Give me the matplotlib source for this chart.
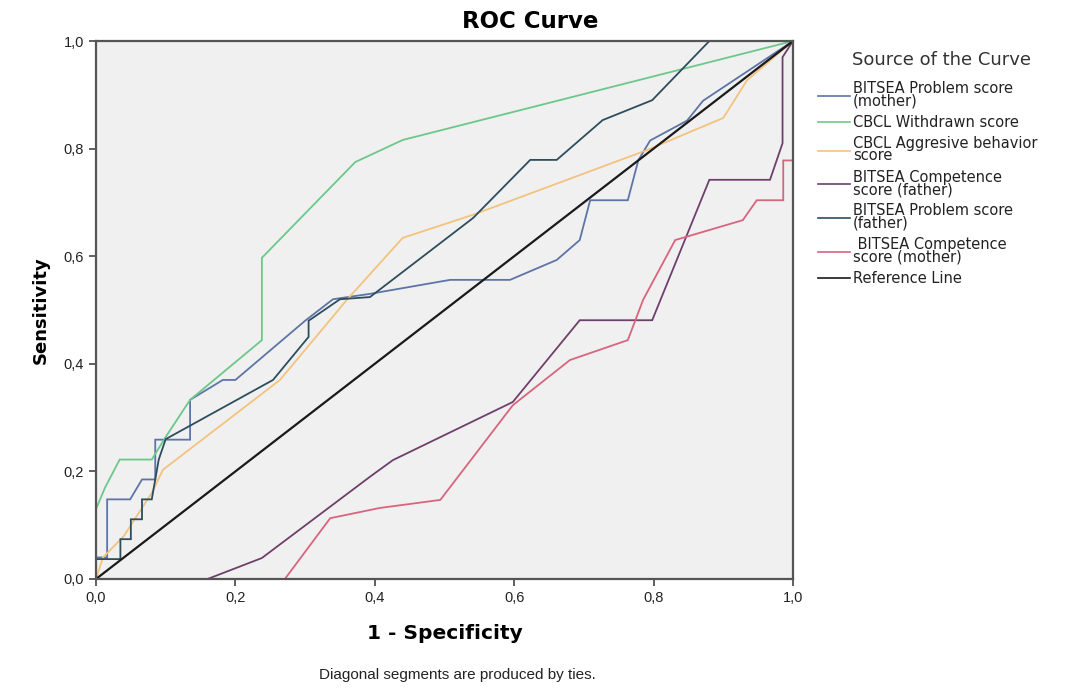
import matplotlib
matplotlib.use("Agg")
import matplotlib.pyplot as plt

plt.rcParams['font.family'] = ['Liberation Sans', 'DejaVu Sans']

labels = [
    "BITSEA Problem score\n(mother)",
    "CBCL Withdrawn score",
    "CBCL Aggresive behavior\nscore",
    "BITSEA Competence\nscore (father)",
    "BITSEA Problem score\n(father)",
    " BITSEA Competence\nscore (mother)",
]
colors = ["#5d74a6", "#6cc88a", "#f3c37e", "#6f3f6c", "#2d4d5c", "#d8647e"]

mother_problem_x = [0, 0, 0.016, 0.016, 0.049, 0.066, 0.085, 0.085, 0.135, 0.135, 0.182, 0.20,
                    0.30, 0.34, 0.393, 0.508, 0.594, 0.661, 0.694, 0.709, 0.763, 0.778, 0.795,
                    0.848, 0.871, 1.0]
mother_problem_y = [0, 0.04, 0.04, 0.148, 0.148, 0.185, 0.185, 0.259, 0.259, 0.333, 0.37, 0.37,
                    0.48, 0.52, 0.53, 0.556, 0.556, 0.593, 0.63, 0.704, 0.704, 0.778, 0.815,
                    0.852, 0.889, 1.0]

withdrawn_x = [0, 0, 0.013, 0.034, 0.08, 0.10, 0.135, 0.238, 0.238, 0.372, 0.44, 1.0]
withdrawn_y = [0, 0.13, 0.17, 0.222, 0.222, 0.264, 0.333, 0.444, 0.597, 0.775, 0.816, 1.0]

aggressive_x = [0, 0.01, 0.04, 0.06, 0.08, 0.096, 0.264, 0.36, 0.44, 0.541, 0.79, 0.90, 0.934, 1.0]
aggressive_y = [0, 0.04, 0.08, 0.12, 0.16, 0.203, 0.37, 0.519, 0.634, 0.677, 0.797, 0.857, 0.927, 1.0]

father_comp_x = [0, 0.16, 0.238, 0.393, 0.426, 0.598, 0.694, 0.798, 0.88, 0.967, 0.985, 0.985, 1.0]
father_comp_y = [0, 0, 0.039, 0.19, 0.221, 0.329, 0.481, 0.481, 0.742, 0.742, 0.81, 0.97, 1.0]

father_problem_x = [0, 0, 0.035, 0.035, 0.05, 0.05, 0.066, 0.066, 0.08, 0.085, 0.09, 0.10, 0.254,
                    0.305, 0.305, 0.35, 0.393, 0.541, 0.623, 0.661, 0.727, 0.798, 0.88, 1.0]
father_problem_y = [0, 0.037, 0.037, 0.074, 0.074, 0.111, 0.111, 0.148, 0.148, 0.185, 0.222, 0.26, 0.37,
                    0.45, 0.48, 0.52, 0.524, 0.671, 0.779, 0.779, 0.853, 0.89, 1.0, 1.0]

mother_comp_x = [0, 0.271, 0.336, 0.407, 0.494, 0.598, 0.68, 0.763, 0.785, 0.831, 0.928, 0.948,
                 0.986, 0.986, 1.0, 1.0]
mother_comp_y = [0, 0, 0.113, 0.132, 0.147, 0.323, 0.407, 0.444, 0.519, 0.63, 0.667, 0.704,
                 0.704, 0.778, 0.778, 1.0]

ref_x = [0, 1]
ref_y = [0, 1]

ticks = [0.0, 0.2, 0.4, 0.6, 0.8, 1.0]
tick_labels = ["0,0", "0,2", "0,4", "0,6", "0,8", "1,0"]

series = [
    (mother_problem_x, mother_problem_y),
    (withdrawn_x, withdrawn_y),
    (aggressive_x, aggressive_y),
    (father_comp_x, father_comp_y),
    (father_problem_x, father_problem_y),
    (mother_comp_x, mother_comp_y),
]

fig = plt.figure(figsize=(10.88, 6.88), dpi=100)
ax = fig.add_axes([96 / 1088, 1 - 579 / 688, (793 - 96) / 1088, (579 - 41) / 688])
ax.set_facecolor("#f0f0f0")

handles = []
for (xs, ys), c, lab in zip(series, colors, labels):
    h, = ax.plot(xs, ys, color=c, lw=1.3, label=lab, solid_joinstyle="miter")
    handles.append(h)
h, = ax.plot(ref_x, ref_y, color="#1a1a1a", lw=1.6, label="Reference Line")
handles.append(h)

ax.set_xlim(0, 1)
ax.set_ylim(0, 1)
ax.set_xticks(ticks)
ax.set_xticklabels(tick_labels)
ax.set_yticks(ticks)
ax.set_yticklabels(tick_labels)
ax.tick_params(axis="both", direction="out", length=5, width=1.2, labelsize=10.5,
               color="#444444", labelcolor="#222222")
for s in ax.spines.values():
    s.set_color("#555555")
    s.set_linewidth(1.6)

ax.set_xlabel("1 - Specificity", fontsize=14.5, fontweight="bold", labelpad=14,
              family="DejaVu Sans")
ax.set_ylabel("Sensitivity", fontsize=13, fontweight="bold", labelpad=10,
              family="DejaVu Sans")

fig.text(530 / 1088, 1 - 22 / 688, "ROC Curve", ha="center", va="center",
         fontsize=16.5, fontweight="bold", family="DejaVu Sans")
fig.text(457 / 1088, 1 - 675 / 688, "Diagonal segments are produced by ties.",
         ha="center", va="center", fontsize=11, color="#222222")

fig.text(852 / 1088, 1 - 60 / 688, "Source of the Curve", ha="left", va="center",
         fontsize=13, color="#333333", family="DejaVu Sans")

leg = fig.legend(handles=handles, loc="upper left", bbox_to_anchor=(818 / 1088, 1 - 81 / 688),
                 frameon=False, prop={"family": "DejaVu Sans", "size": 10.5},
                 handlelength=2.2, handletextpad=0.2,
                 labelspacing=0.42, borderaxespad=0, borderpad=0)
for t in leg.get_texts():
    t.set_linespacing(0.8)
    t.set_color("#222222")
for l in leg.get_lines():
    l.set_linewidth(1.2)

fig.savefig("out.png", dpi=100)
